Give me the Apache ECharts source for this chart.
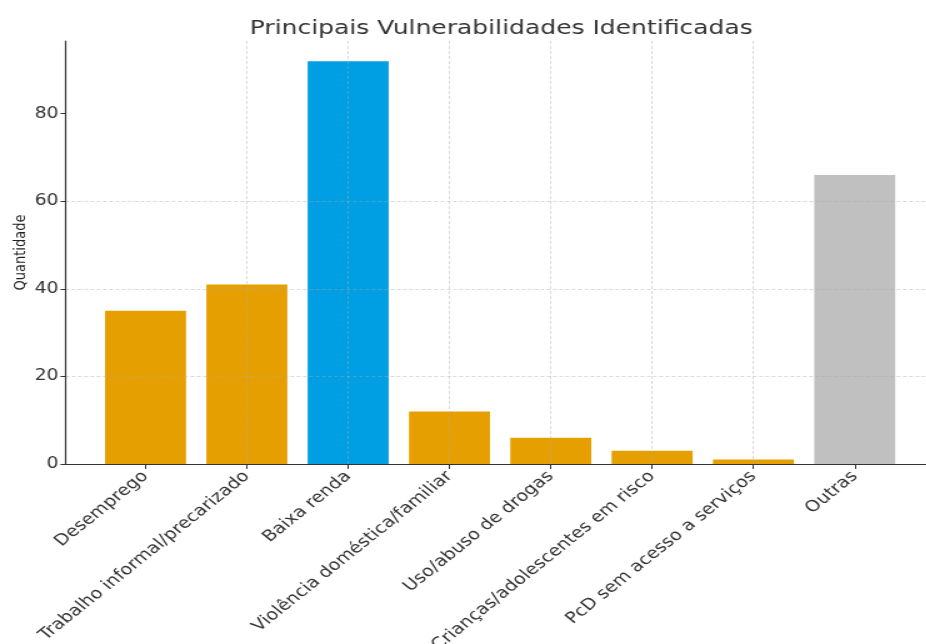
<!DOCTYPE html>
<html>
<head>
<meta charset="utf-8">
<script src="https://cdn.jsdelivr.net/npm/echarts@6/dist/echarts.min.js"></script>
<style>
  html, body { margin: 0; padding: 0; background: #fff; overflow: hidden; }
  /* the reference picture is stretched sideways by about 1.25, so draw narrower and widen it */
  #chart { width: 741px; height: 644px; transform: scaleX(1.25); transform-origin: 0 0; }
</style>
</head>
<body>
<div id="chart"></div>
<script>
  const categories = [
    'Desemprego',
    'Trabalho informal/precarizado',
    'Baixa renda',
    'Violência doméstica/familiar',
    'Uso/abuso de drogas',
    'Crianças/adolescentes em risco',
    'PcD sem acesso a serviços',
    'Outras'
  ];
  const values = [35, 41, 92, 12, 6, 3, 1, 66];
  const barColors = ['#E69F00', '#E69F00', '#009FE3', '#E69F00', '#E69F00', '#E69F00', '#E69F00', '#C0C0C0'];
  const yTicks = [0, 20, 40, 60, 80];
  const xPositions = categories.map((c, i) => i);

  const chart = echarts.init(document.getElementById('chart'));
  const font = 'DejaVu Sans';
  const gridLine = { show: true, lineStyle: { color: 'rgba(170,170,170,0.55)', width: 0.8, type: [3, 2] } };

  chart.setOption({
    animation: false,
    title: {
      text: 'Principais Vulnerabilidades Identificadas',
      left: 396, top: 14, textAlign: 'center',
      textStyle: { fontFamily: font, fontSize: 20, fontWeight: 'normal', color: '#333' }
    },
    grid: { left: 52.4, top: 41, right: 0, height: 423, containLabel: false, outerBoundsMode: 'none' },
    xAxis: {
      type: 'value',
      min: -0.79, max: 7.706,
      z: 5,
      axisLine: { show: true, lineStyle: { color: '#333', width: 1.2 } },
      axisTick: { show: true, length: 5, customValues: xPositions, lineStyle: { color: '#333' } },
      axisLabel: {
        customValues: xPositions,
        rotate: 45, margin: 10,
        fontFamily: font, fontSize: 15.5, color: '#333',
        formatter: v => categories[Math.round(v)]
      },
      splitLine: Object.assign({ showMinLine: false, showMaxLine: false }, gridLine)
    },
    yAxis: {
      type: 'value',
      min: 0, max: 96.6,
      z: 5,
      name: 'Quantidade', nameLocation: 'middle', nameGap: 29, nameMoveOverlap: false,
      nameTextStyle: { fontFamily: font, fontSize: 13, color: '#222' },
      axisLine: { show: true, onZero: false, lineStyle: { color: '#333', width: 1.2 } },
      axisTick: { show: true, length: 4, customValues: yTicks, lineStyle: { color: '#333' } },
      axisLabel: { customValues: yTicks, margin: 5.5, fontFamily: font, fontSize: 15, color: '#333' },
      splitLine: Object.assign({ showMinLine: false, showMaxLine: false }, gridLine)
    },
    series: [{
      type: 'bar',
      barWidth: 64.8,
      data: values.map((v, i) => ({ value: [xPositions[i], v], itemStyle: { color: barColors[i] } }))
    }]
  });
</script>
</body>
</html>
